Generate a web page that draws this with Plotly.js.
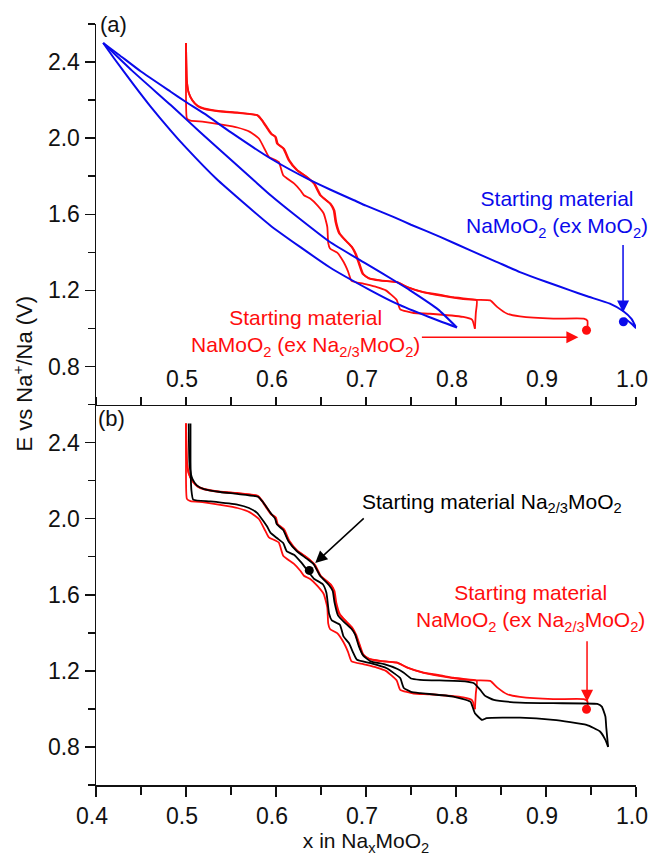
<!DOCTYPE html>
<html>
<head>
<meta charset="utf-8">
<script src="https://cdn.plot.ly/plotly-3.0.1.min.js"></script>
<style>html,body{margin:0;padding:0;background:#fff;}#chart{width:651px;height:857px;}</style>
</head>
<body>
<div id="chart"></div>
<script>
// ---------- Panel (a): NaMoO2 (ex MoO2), blue ----------
const blueHookX  = [0.987, 0.995, 1.000];
const blueHookV  = [1.055, 1.025, 1.002];
const blueUpperX = [1.000, 0.995, 0.986, 0.971, 0.945, 0.927, 0.900, 0.871, 0.845, 0.816, 0.783, 0.750, 0.731, 0.700, 0.686, 0.660, 0.638, 0.594, 0.550, 0.520, 0.500, 0.483, 0.450, 0.425, 0.408];
const blueUpperV = [1.005, 1.050, 1.090, 1.130, 1.170, 1.200, 1.245, 1.296, 1.350, 1.410, 1.480, 1.545, 1.585, 1.645, 1.675, 1.730, 1.779, 1.893, 2.030, 2.130, 2.190, 2.244, 2.350, 2.440, 2.500];
const blueLowerX = [0.408, 0.420, 0.442, 0.460, 0.483, 0.500, 0.534, 0.594, 0.660, 0.705, 0.734, 0.770, 0.801];
const blueLowerV = [2.500, 2.420, 2.280, 2.170, 2.040, 1.950, 1.785, 1.540, 1.320, 1.200, 1.130, 1.060, 1.005];
const blueMidX   = [0.801, 0.780, 0.749, 0.734, 0.700, 0.660, 0.620, 0.594, 0.575, 0.530, 0.500, 0.483, 0.440, 0.408];
const blueMidV   = [1.005, 1.100, 1.200, 1.244, 1.340, 1.454, 1.600, 1.700, 1.780, 1.970, 2.100, 2.174, 2.355, 2.500];
const blueStartX = [0.986];
const blueStartV = [1.035];

// ---------- Red: NaMoO2 (ex Na2/3MoO2), same data in (a) and (b) ----------
const redCh1X = [0.946, 0.946, 0.942, 0.908, 0.871, 0.857, 0.846, 0.838, 0.823, 0.808, 0.797, 0.783, 0.764, 0.746, 0.734, 0.716, 0.703, 0.696, 0.692, 0.688, 0.684, 0.677, 0.670, 0.666, 0.664, 0.660, 0.649, 0.642, 0.634, 0.623, 0.614, 0.608, 0.601, 0.599, 0.594, 0.584, 0.579, 0.557, 0.538, 0.520, 0.513, 0.507, 0.503, 0.501, 0.500];
const redCh1V = [1.000, 1.040, 1.051, 1.051, 1.063, 1.077, 1.112, 1.147, 1.150, 1.158, 1.164, 1.176, 1.191, 1.217, 1.244, 1.253, 1.265, 1.288, 1.340, 1.393, 1.428, 1.463, 1.500, 1.560, 1.621, 1.656, 1.700, 1.762, 1.796, 1.832, 1.884, 1.946, 1.972, 2.007, 2.025, 2.095, 2.121, 2.135, 2.142, 2.156, 2.170, 2.200, 2.240, 2.300, 2.500];
const redDisX = [0.500, 0.500, 0.501, 0.505, 0.520, 0.538, 0.557, 0.571, 0.581, 0.588, 0.592, 0.603, 0.608, 0.620, 0.627, 0.631, 0.638, 0.646, 0.653, 0.657, 0.658, 0.660, 0.668, 0.675, 0.680, 0.684, 0.697, 0.712, 0.722, 0.734, 0.738, 0.753, 0.771, 0.808, 0.818, 0.821];
const redDisV = [2.500, 2.300, 2.104, 2.092, 2.086, 2.072, 2.056, 2.033, 1.998, 1.937, 1.902, 1.875, 1.805, 1.762, 1.726, 1.700, 1.683, 1.647, 1.604, 1.533, 1.450, 1.420, 1.398, 1.350, 1.300, 1.250, 1.235, 1.217, 1.200, 1.150, 1.100, 1.081, 1.077, 1.060, 1.045, 0.998];
const redCh2X = [0.821, 0.822, 0.823, 0.808, 0.783, 0.764, 0.747, 0.735, 0.716, 0.703, 0.697, 0.693, 0.689, 0.685, 0.678, 0.671, 0.667, 0.665, 0.661, 0.650, 0.643, 0.635, 0.624, 0.615, 0.609, 0.602, 0.600, 0.595, 0.585, 0.580, 0.557, 0.538, 0.520, 0.513, 0.507, 0.503, 0.501, 0.500];
const redCh2V = [0.998, 1.080, 1.147, 1.154, 1.172, 1.189, 1.215, 1.242, 1.251, 1.263, 1.286, 1.338, 1.390, 1.425, 1.460, 1.498, 1.558, 1.619, 1.654, 1.698, 1.760, 1.794, 1.830, 1.882, 1.944, 1.970, 2.005, 2.023, 2.093, 2.119, 2.133, 2.140, 2.154, 2.168, 2.198, 2.238, 2.300, 2.500];
const redStartX = [0.945];
const redStartV = [0.990];

// ---------- Panel (b): Na2/3MoO2, black ----------
const blackDisX = [0.505, 0.505, 0.506, 0.508, 0.527, 0.557, 0.570, 0.579, 0.590, 0.594, 0.601, 0.608, 0.612, 0.620, 0.627, 0.633, 0.642, 0.652, 0.656, 0.659, 0.662, 0.671, 0.675, 0.681, 0.686, 0.690, 0.705, 0.723, 0.731, 0.738, 0.742, 0.750, 0.760, 0.797, 0.816, 0.821, 0.829, 0.834, 0.871, 0.908, 0.945, 0.960, 0.966, 0.969];
const blackDisV = [2.500, 2.300, 2.150, 2.100, 2.091, 2.074, 2.056, 2.030, 1.960, 1.925, 1.898, 1.872, 1.828, 1.810, 1.775, 1.740, 1.685, 1.655, 1.610, 1.500, 1.465, 1.442, 1.381, 1.346, 1.293, 1.258, 1.240, 1.214, 1.188, 1.162, 1.110, 1.090, 1.083, 1.065, 1.038, 0.977, 0.942, 0.951, 0.954, 0.942, 0.916, 0.881, 0.837, 0.800];
const blackChX = [0.969, 0.967, 0.966, 0.962, 0.957, 0.908, 0.871, 0.842, 0.832, 0.827, 0.820, 0.810, 0.760, 0.750, 0.742, 0.735, 0.720, 0.705, 0.697, 0.692, 0.688, 0.684, 0.676, 0.669, 0.665, 0.663, 0.659, 0.649, 0.642, 0.634, 0.623, 0.614, 0.608, 0.601, 0.599, 0.594, 0.585, 0.580, 0.557, 0.538, 0.520, 0.512, 0.507, 0.504, 0.503];
const blackChV = [0.800, 0.900, 0.960, 1.012, 1.026, 1.030, 1.033, 1.047, 1.070, 1.100, 1.135, 1.145, 1.153, 1.160, 1.190, 1.210, 1.235, 1.250, 1.280, 1.330, 1.390, 1.420, 1.455, 1.490, 1.560, 1.620, 1.650, 1.700, 1.760, 1.790, 1.830, 1.880, 1.940, 1.970, 2.000, 2.030, 2.090, 2.115, 2.130, 2.140, 2.155, 2.175, 2.210, 2.280, 2.500];
const blackStartX = [0.637];
const blackStartV = [1.728];
const redStartBX = [0.945];
const redStartBV = [0.998];

// ---------- tick labels ----------
const yTickStart = 0.8, yTickStep = 0.4, yMinorStep = 0.2;
const xTickStart = 0.4, xTickStep = 0.1, xMinorStep = 0.05;

const FONT = 'Liberation Sans, Arial, Helvetica, sans-serif';
const BLUE = '#0a0aeb', RED = '#ff0d0d', BLACK = '#000000';

function line(x, y, color, xa, ya, w) {
  return {x: x, y: y, mode: 'lines', type: 'scatter', xaxis: xa, yaxis: ya,
          line: {color: color, width: w || 2, shape: 'spline', smoothing: 0.45}, hoverinfo: 'skip', showlegend: false};
}
function dot(x, y, color, xa, ya) {
  return {x: x, y: y, mode: 'markers', type: 'scatter', xaxis: xa, yaxis: ya,
          marker: {color: color, size: 9}, hoverinfo: 'skip', showlegend: false};
}

const data = [
  // panel (a)
  line(redCh1X, redCh1V, RED, 'x2', 'y2', 1.8),
  line(redDisX, redDisV, RED, 'x2', 'y2', 1.8),
  line(redCh2X, redCh2V, RED, 'x2', 'y2', 1.8),
  line(blueHookX.concat(blueUpperX), blueHookV.concat(blueUpperV), BLUE, 'x2', 'y2', 2),
  line(blueLowerX, blueLowerV, BLUE, 'x2', 'y2', 2),
  line(blueMidX, blueMidV, BLUE, 'x2', 'y2', 2),
  dot(blueStartX, blueStartV, BLUE, 'x2', 'y2'),
  dot(redStartX, redStartV, RED, 'x2', 'y2'),
  // panel (b)
  line(redCh1X, redCh1V, RED, 'x', 'y', 1.8),
  line(redDisX, redDisV, RED, 'x', 'y', 1.8),
  line(redCh2X, redCh2V, RED, 'x', 'y', 1.8),
  line(blackDisX, blackDisV, BLACK, 'x', 'y', 1.8),
  line(blackChX, blackChV, BLACK, 'x', 'y', 1.8),
  dot(blackStartX, blackStartV, BLACK, 'x', 'y'),
  dot(redStartBX, redStartBV, RED, 'x', 'y')
];

const tickFont = {family: FONT, size: 23, color: '#111'};
const yCommon = {
  range: [0.6, 2.6], tick0: yTickStart, dtick: yTickStep, tickformat: '.1f',
  showline: true, linecolor: '#111', linewidth: 1.5, ticks: 'outside', ticklen: 10, tickwidth: 1.5, tickcolor: '#111',
  minor: {dtick: yMinorStep, tick0: 0.6, ticks: 'outside', ticklen: 7, tickwidth: 1.5, tickcolor: '#111'},
  showgrid: false, zeroline: false, tickfont: tickFont, fixedrange: true
};

const annFont = (c) => ({family: FONT, size: 21, color: c});

const layout = {
  width: 651, height: 857,
  margin: {l: 96, r: 15, t: 24, b: 72},
  paper_bgcolor: '#ffffff', plot_bgcolor: '#ffffff',
  font: {family: FONT, color: '#111'},
  showlegend: false,
  xaxis: {
    domain: [0, 1], anchor: 'y', range: [0.4, 1.0], tick0: xTickStart, dtick: xTickStep, tickformat: '.1f',
    showline: true, linecolor: '#111', linewidth: 1.5, ticks: 'outside', ticklen: 10, tickwidth: 1.5, tickcolor: '#111',
    minor: {dtick: xMinorStep, ticks: 'outside', ticklen: 8, tickwidth: 1.5, tickcolor: '#111'},
    showgrid: false, zeroline: false, tickfont: tickFont, ticklabelshift: -4,
    title: {text: 'x in Na<sub>x</sub>MoO<sub>2</sub>', font: {family: FONT, size: 21, color: '#111'}, standoff: 0},
    fixedrange: true
  },
  yaxis: Object.assign({domain: [0, 0.5], anchor: 'x'}, yCommon),
  xaxis2: {
    domain: [0, 1], anchor: 'free', position: 0.5, side: 'top', range: [0.4, 1.0], tick0: xTickStart, dtick: xTickStep, tickformat: '.1f',
    labelalias: {'0.4': ''},
    showline: true, linecolor: '#111', linewidth: 1.5, ticks: 'outside', ticklen: 8, tickwidth: 1.5, tickcolor: '#111',
    minor: {dtick: xMinorStep, ticks: 'outside', ticklen: 8, tickwidth: 1.5, tickcolor: '#111'},
    showgrid: false, zeroline: false, tickfont: tickFont, ticklabelshift: -4, fixedrange: true
  },
  yaxis2: Object.assign({domain: [0.5, 1], anchor: 'x2'}, yCommon),
  annotations: [
    {xref: 'paper', yref: 'paper', x: -0.136, y: 0.54, text: 'E vs Na<sup>+</sup>/Na (V)', textangle: -90,
     showarrow: false, xanchor: 'center', yanchor: 'middle', font: {family: FONT, size: 22, color: '#111'}},
    {xref: 'paper', yref: 'paper', x: 0.004, y: 0.999, text: '(a)', showarrow: false, xanchor: 'left', yanchor: 'middle',
     font: {family: FONT, size: 22, color: '#111'}},
    {xref: 'paper', yref: 'paper', x: 0.0, y: 0.482, text: '(b)', showarrow: false, xanchor: 'left', yanchor: 'middle',
     font: {family: FONT, size: 22, color: '#111'}},
    // panel (a) labels
    {xref: 'x2', yref: 'y2', x: 0.9126, y: 1.60, text: 'Starting material<br>NaMoO<sub>2</sub> (ex MoO<sub>2</sub>)',
     showarrow: false, xanchor: 'center', yanchor: 'middle', align: 'center', font: annFont(BLUE)},
    {xref: 'x2', yref: 'y2', x: 0.9856, y: 1.084, text: '', showarrow: true, ax: 0, ay: -69,
     arrowhead: 2, arrowsize: 1.6, arrowwidth: 1.5, arrowcolor: BLUE},
    {xref: 'x2', yref: 'y2', x: 0.6326, y: 0.974, text: 'Starting material<br>NaMoO<sub>2</sub> (ex Na<sub>2/3</sub>MoO<sub>2</sub>)',
     showarrow: false, xanchor: 'center', yanchor: 'middle', align: 'center', font: annFont(RED)},
    {xref: 'x2', yref: 'y2', x: 0.936, y: 0.954, text: '', showarrow: true, ax: -158, ay: 0,
     arrowhead: 2, arrowsize: 1.6, arrowwidth: 1.5, arrowcolor: RED},
    // panel (b) labels
    {xref: 'x', yref: 'y', x: 0.8403, y: 2.084, text: 'Starting material Na<sub>2/3</sub>MoO<sub>2</sub>',
     showarrow: false, xanchor: 'center', yanchor: 'middle', font: annFont(BLACK)},
    {xref: 'x', yref: 'y', x: 0.6436, y: 1.767, text: '', showarrow: true, ax: 50, ay: -46,
     arrowhead: 2, arrowsize: 1.6, arrowwidth: 1.5, arrowcolor: BLACK},
    {xref: 'x', yref: 'y', x: 0.8825, y: 1.529, text: 'Starting material<br>NaMoO<sub>2</sub> (ex Na<sub>2/3</sub>MoO<sub>2</sub>)',
     showarrow: false, xanchor: 'center', yanchor: 'middle', align: 'center', font: annFont(RED)},
    {xref: 'x', yref: 'y', x: 0.9456, y: 1.038, text: '', showarrow: true, ax: 0, ay: -62,
     arrowhead: 2, arrowsize: 1.6, arrowwidth: 1.5, arrowcolor: RED}
  ]
};

Plotly.newPlot('chart', data, layout, {displayModeBar: false, staticPlot: true});
</script>
</body>
</html>
